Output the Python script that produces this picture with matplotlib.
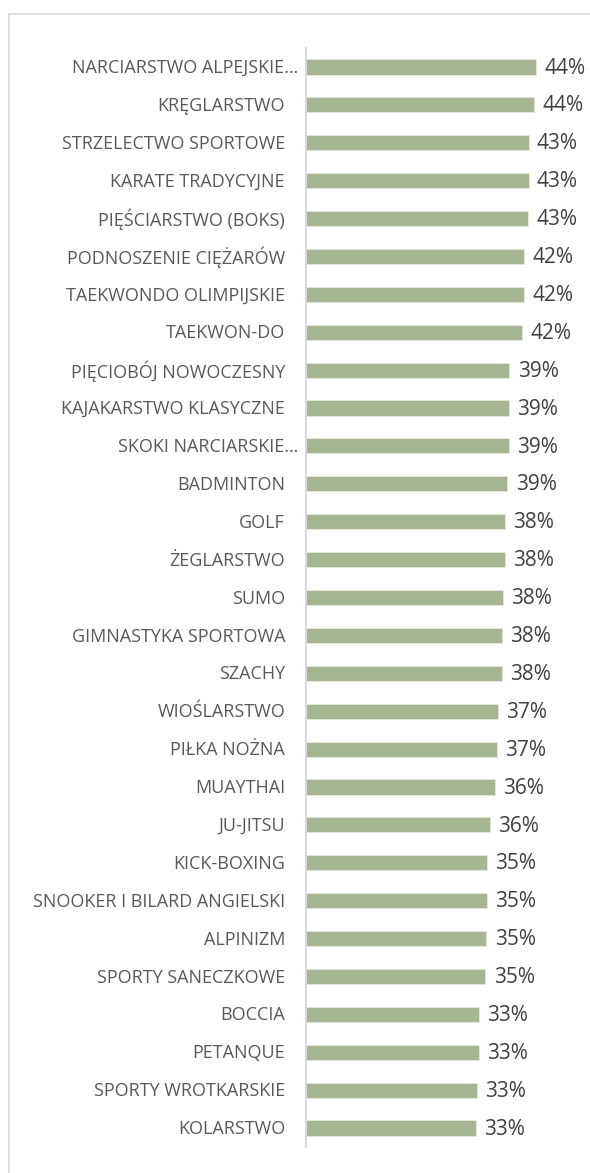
import matplotlib.pyplot as plt
from matplotlib.patches import Rectangle
from matplotlib.transforms import blended_transform_factory

# categories, top to bottom
sports = ['NARCIARSTWO ALPEJSKIE…', 'KRĘGLARSTWO', 'STRZELECTWO SPORTOWE',
          'KARATE TRADYCYJNE', 'PIĘŚCIARSTWO (BOKS)', 'PODNOSZENIE CIĘŻARÓW',
          'TAEKWONDO OLIMPIJSKIE', 'TAEKWON-DO', 'PIĘCIOBÓJ NOWOCZESNY',
          'KAJAKARSTWO KLASYCZNE', 'SKOKI NARCIARSKIE…', 'BADMINTON', 'GOLF',
          'ŻEGLARSTWO', 'SUMO', 'GIMNASTYKA SPORTOWA', 'SZACHY', 'WIOŚLARSTWO',
          'PIŁKA NOŻNA', 'MUAYTHAI', 'JU-JITSU', 'KICK-BOXING',
          'SNOOKER I BILARD ANGIELSKI', 'ALPINIZM', 'SPORTY SANECZKOWE',
          'BOCCIA', 'PETANQUE', 'SPORTY WROTKARSKIE', 'KOLARSTWO']
# shares in percent
values = [44.4, 43.9, 42.9, 42.9, 42.8, 42.1, 42.0, 41.6, 39.2, 39.1, 39.1,
          38.8, 38.4, 38.3, 38.0, 37.8, 37.7, 37.0, 36.8, 36.4, 35.5, 34.9,
          34.9, 34.8, 34.6, 33.3, 33.3, 33.0, 32.8]

plt.rcParams['font.family'] = ['Open Sans', 'DejaVu Sans']

fig = plt.figure(figsize=(5.9, 11.73), dpi=100)
W, H = 590, 1173

# light frame around the chart area
fig.patches.append(Rectangle((9 / W, -0.01), 1.0, 1 - 14 / H + 0.01,
                             transform=fig.transFigure, fill=False,
                             edgecolor='#d9d9d9', linewidth=1.2))

ax = fig.add_axes([305.5 / W, 1 - 1147 / H, 260 / W, (1147 - 48) / H])
pos = list(range(len(sports)))
ax.barh(pos, values, height=0.4, color='#a6b692', edgecolor='#e4ead9',
        linewidth=0.6)
ax.set_ylim(len(sports) - 0.5, -0.5)
ax.set_xlim(0, 50)

for y, v in zip(pos, values):
    ax.text(v + 1.6, y + 0.03, f'{round(v)}%', va='center', ha='left',
            fontsize=15, color='#404040')

# category labels; the cut-off (…) ones run a bit further right, like Excel
tr = blended_transform_factory(fig.transFigure, ax.transData)
for y, name in zip(pos, sports):
    x = 298 if name.endswith('…') else 285
    ax.text(x / W, y + 0.03, name, transform=tr, ha='right', va='center',
            fontsize=13, color='#595959')

ax.set_yticks([])
ax.set_xticks([])
for s in ['top', 'right', 'bottom']:
    ax.spines[s].set_visible(False)
ax.spines['left'].set_color('#d9d9d9')
ax.spines['left'].set_linewidth(1.5)

fig.savefig('out.png', dpi=100)
